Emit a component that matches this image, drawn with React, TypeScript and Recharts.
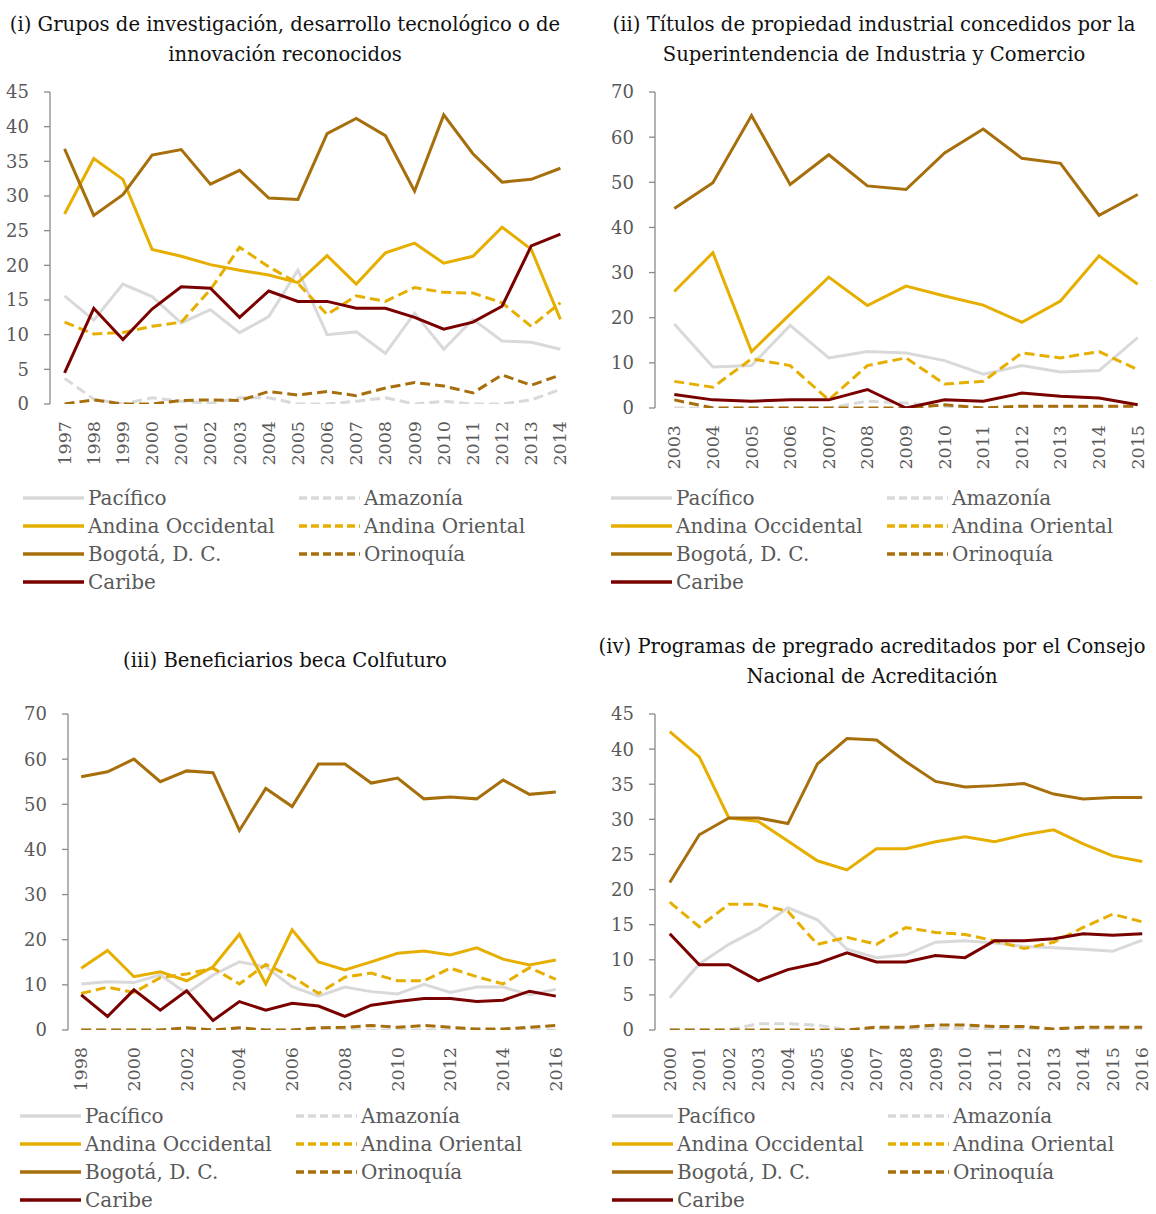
import React from 'react';
import { LineChart, Line, XAxis, YAxis } from 'recharts';

const FONT = '"DejaVu Serif", serif';
const TEXT_GRAY = '#595959';
const AXIS_GRAY = '#8A8A8A';

// ---------- Series definitions (names) ----------
const SERIES_KEYS = ['pacifico', 'amazonia', 'andOcc', 'andOr', 'bogota', 'orinoquia', 'caribe'];
const SERIES_NAMES = ['Pacífico', 'Amazonía', 'Andina Occidental', 'Andina Oriental', 'Bogotá, D. C.', 'Orinoquía', 'Caribe'];

// ---------- Panel (i) ----------
const years1 = ['1997','1998','1999','2000','2001','2002','2003','2004','2005','2006','2007','2008','2009','2010','2011','2012','2013','2014'];
const p1Pacifico = [15.6,12.1,17.3,15.5,11.7,13.6,10.3,12.6,19.3,10.0,10.4,7.3,13.1,7.9,12.2,9.1,8.9,7.9];
const p1Amazonia = [3.7,0.7,0,0.9,0.4,0.1,0.9,0.9,0,0,0.4,0.9,0,0.4,0,0,0.6,2.1];
const p1AndOcc = [27.4,35.4,32.4,22.3,21.3,20.1,19.3,18.6,17.5,21.4,17.3,21.8,23.2,20.3,21.3,25.5,22.3,12.2];
const p1AndOr = [11.8,10.1,10.3,11.2,11.8,16.5,22.6,19.8,17.4,12.9,15.6,14.8,16.8,16.1,16.0,14.6,11.2,14.6];
const p1Bogota = [36.8,27.2,30.2,35.9,36.7,31.7,33.7,29.7,29.5,39.0,41.2,38.7,30.7,41.7,36.1,32.0,32.4,34.0];
const p1Orinoquia = [0,0.6,0,0,0.5,0.6,0.5,1.8,1.3,1.8,1.2,2.3,3.1,2.6,1.6,4.2,2.7,4.2];
const p1Caribe = [4.5,13.8,9.3,13.7,16.9,16.7,12.5,16.3,14.8,14.8,13.8,13.8,12.5,10.8,11.8,14.1,22.8,24.5];

// ---------- Panel (ii) ----------
const years2 = ['2003','2004','2005','2006','2007','2008','2009','2010','2011','2012','2013','2014','2015'];
const p2Pacifico = [18.6,9.1,9.4,18.3,11.1,12.5,12.2,10.5,7.5,9.4,8.0,8.3,15.6];
const p2Amazonia = [0,0,0,0,0,1.5,1.1,0.4,0,0,0,0,0];
const p2AndOcc = [25.8,34.4,12.5,20.8,29.0,22.7,27.0,24.8,22.8,19.0,23.7,33.7,27.4];
const p2AndOr = [5.9,4.6,10.9,9.4,1.8,9.4,11.1,5.3,5.9,12.2,11.1,12.5,8.5];
const p2Bogota = [44.2,49.9,64.8,49.5,56.1,49.2,48.4,56.5,61.8,55.3,54.2,42.7,47.3];
const p2Orinoquia = [1.8,0,0,0,0,0,0,0.7,0,0.4,0.4,0.4,0.4];
const p2Caribe = [3.0,1.8,1.5,1.8,1.8,4.1,0,1.8,1.5,3.3,2.6,2.2,0.7];

// ---------- Panel (iii) ----------
const years3 = ['1998','1999','2000','2001','2002','2003','2004','2005','2006','2007','2008','2009','2010','2011','2012','2013','2014','2015','2016'];
const p3Pacifico = [10.2,10.7,10.5,12.2,8.1,12.2,15.1,14.0,9.6,7.5,9.5,8.5,8.0,10.1,8.3,9.5,9.5,7.8,9.0];
const p3Amazonia = [0,0,0,0,0,0,0,0,0,0,0,0,0,0,0,0,0,0,0];
const p3AndOcc = [13.7,17.6,11.8,12.9,10.9,14.0,21.2,10.2,22.2,15.1,13.3,15.1,17.0,17.5,16.6,18.2,15.7,14.4,15.5];
const p3AndOr = [8.1,9.5,8.3,11.6,12.4,13.7,10.2,14.5,11.8,8.1,11.7,12.6,10.9,10.9,13.7,11.8,10.2,13.8,11.2];
const p3Bogota = [56.1,57.2,60.0,55.0,57.4,57.0,44.2,53.5,49.5,58.9,58.9,54.7,55.8,51.2,51.6,51.2,55.4,52.2,52.7];
const p3Orinoquia = [0,0,0,0,0.5,0,0.5,0,0,0.5,0.6,1.0,0.6,1.0,0.6,0.2,0.2,0.6,1.0];
const p3Caribe = [7.8,3.0,8.9,4.4,8.7,2.1,6.3,4.4,5.9,5.3,3.0,5.5,6.3,7.0,7.0,6.3,6.6,8.6,7.5];

// ---------- Panel (iv) ----------
const years4 = ['2000','2001','2002','2003','2004','2005','2006','2007','2008','2009','2010','2011','2012','2013','2014','2015','2016'];
const p4Pacifico = [4.6,9.4,12.2,14.4,17.4,15.7,11.5,10.3,10.7,12.5,12.7,12.4,11.9,11.7,11.5,11.2,12.8];
const p4Amazonia = [0,0,0,0.9,0.9,0.7,0,0.2,0.2,0.2,0.2,0.2,0.2,0,0,0,0];
const p4AndOcc = [42.5,38.9,30.2,29.7,26.9,24.1,22.8,25.8,25.8,26.8,27.5,26.8,27.8,28.5,26.5,24.8,24.0];
const p4AndOr = [18.2,14.7,17.9,17.9,16.9,12.2,13.2,12.2,14.6,13.9,13.6,12.7,11.6,12.5,14.6,16.5,15.4];
const p4Bogota = [21.0,27.8,30.2,30.2,29.4,37.9,41.5,41.3,38.2,35.4,34.6,34.8,35.1,33.6,32.9,33.1,33.1];
const p4Orinoquia = [0,0,0,0,0,0,0,0.4,0.4,0.7,0.7,0.5,0.5,0.15,0.4,0.4,0.4];
const p4Caribe = [13.7,9.3,9.3,7.0,8.6,9.5,11.0,9.7,9.7,10.6,10.3,12.7,12.7,13.0,13.7,13.5,13.7];

// ---------- Titles ----------
const title1 = ['(i) Grupos de investigación, desarrollo tecnológico o de', 'innovación reconocidos'];
const title2 = ['(ii) Títulos de propiedad industrial concedidos por la', 'Superintendencia de Industria y Comercio'];
const title3 = ['(iii) Beneficiarios beca Colfuturo'];
const title4 = ['(iv) Programas de pregrado acreditados por el Consejo', 'Nacional de Acreditación'];

// ---------- Styles (separate from data) ----------
const SERIES_STYLE: Record<string, { color: string; dashed: boolean }> = {
  pacifico: { color: '#D9D9D9', dashed: false },
  amazonia: { color: '#D9D9D9', dashed: true },
  andOcc: { color: '#E6AF00', dashed: false },
  andOr: { color: '#E6AF00', dashed: true },
  bogota: { color: '#A66F0C', dashed: false },
  orinoquia: { color: '#A66F0C', dashed: true },
  caribe: { color: '#7A0000', dashed: false },
};

function buildRows(years: string[], cols: number[][]) {
  return years.map((y, i) => {
    const row: any = { i, year: y };
    SERIES_KEYS.forEach((k, j) => { row[k] = cols[j][i]; });
    return row;
  });
}

const data1 = buildRows(years1, [p1Pacifico, p1Amazonia, p1AndOcc, p1AndOr, p1Bogota, p1Orinoquia, p1Caribe]);
const data2 = buildRows(years2, [p2Pacifico, p2Amazonia, p2AndOcc, p2AndOr, p2Bogota, p2Orinoquia, p2Caribe]);
const data3 = buildRows(years3, [p3Pacifico, p3Amazonia, p3AndOcc, p3AndOr, p3Bogota, p3Orinoquia, p3Caribe]);
const data4 = buildRows(years4, [p4Pacifico, p4Amazonia, p4AndOcc, p4AndOr, p4Bogota, p4Orinoquia, p4Caribe]);

type PanelProps = {
  data: any[];
  years: string[];
  yMax: number;
  yStep: number;
  left: number;
  plotTop: number;
  yAxisWidth: number;
  plotWidth: number;
  plotHeight: number;
  labelEvery: number;
};

function Panel(p: PanelProps) {
  const n = p.years.length;
  const marginTop = 12;
  const xAxisHeight = 70;
  const width = p.yAxisWidth + p.plotWidth;
  const height = marginTop + p.plotHeight + xAxisHeight;
  const yTicks: number[] = [];
  for (let v = 0; v <= p.yMax; v += p.yStep) yTicks.push(v);
  const boundaryTicks = Array.from({ length: n + 1 }, (_, k) => k);
  const labelTicks = p.years.map((_, i) => i).filter((i) => i % p.labelEvery === 0);
  const renderTick = (props: any) => {
    const { x, y, payload } = props;
    return (
      <text
        x={x}
        y={y}
        transform={`rotate(-90, ${x}, ${y})`}
        textAnchor="end"
        dominantBaseline="central"
        fill={TEXT_GRAY}
        fontSize={17.5}
        fontFamily={FONT}
      >
        {p.years[payload.value]}
      </text>
    );
  };
  return (
    <div style={{ position: 'absolute', left: p.left, top: p.plotTop - marginTop }}>
      <LineChart width={width} height={height} data={p.data} margin={{ top: marginTop, right: 0, bottom: 0, left: 0 }}>
        <XAxis
          xAxisId="frame"
          type="number"
          dataKey="i"
          domain={[0, n]}
          ticks={boundaryTicks}
          interval={0}
          height={0}
          tick={false}
          tickSize={8}
          axisLine={{ stroke: AXIS_GRAY, strokeWidth: 1.3 }}
          tickLine={{ stroke: AXIS_GRAY, strokeWidth: 1.3 }}
          allowDataOverflow
        />
        <XAxis
          xAxisId="labels"
          type="number"
          dataKey="i"
          domain={[-0.5, n - 0.5]}
          ticks={labelTicks}
          interval={0}
          height={xAxisHeight}
          axisLine={false}
          tickLine={false}
          tickSize={6}
          tickMargin={11}
          tick={renderTick}
          allowDataOverflow
        />
        <YAxis
          type="number"
          domain={[0, p.yMax]}
          ticks={yTicks}
          interval={0}
          width={p.yAxisWidth}
          tickSize={6}
          tickMargin={15}
          axisLine={{ stroke: AXIS_GRAY, strokeWidth: 1.3 }}
          tickLine={{ stroke: AXIS_GRAY, strokeWidth: 1.3 }}
          tick={{ fill: TEXT_GRAY, fontSize: 18, fontFamily: FONT }}
          allowDataOverflow
        />
        {SERIES_KEYS.map((k, j) => (
          <Line
            key={k}
            xAxisId="labels"
            type="linear"
            dataKey={k}
            name={SERIES_NAMES[j]}
            stroke={SERIES_STYLE[k].color}
            strokeWidth={3}
            strokeDasharray={SERIES_STYLE[k].dashed ? '10 5' : undefined}
            dot={false}
            activeDot={false}
            isAnimationActive={false}
          />
        ))}
      </LineChart>
    </div>
  );
}

function LegendBlock({ left, centerTop }: { left: number; centerTop: number }) {
  const colGap = 276;
  const rowStep = 28;
  const boxH = 20;
  return (
    <div style={{ position: 'absolute', left, top: centerTop - boxH / 2 }}>
      {SERIES_KEYS.map((k, j) => {
        const col = j % 2;
        const row = Math.floor(j / 2);
        const st = SERIES_STYLE[k];
        return (
          <div
            key={k}
            style={{
              position: 'absolute',
              left: col * colGap,
              top: row * rowStep,
              height: boxH,
              display: 'flex',
              alignItems: 'center',
              whiteSpace: 'nowrap',
            }}
          >
            <svg width={61} height={8} style={{ display: 'block' }}>
              <line
                x1={0}
                y1={4}
                x2={61}
                y2={4}
                stroke={st.color}
                strokeWidth={3.5}
                strokeDasharray={st.dashed ? '8 4' : undefined}
              />
            </svg>
            <span style={{ marginLeft: 4, fontSize: 20, color: TEXT_GRAY, fontFamily: FONT, lineHeight: `${boxH}px` }}>
              {SERIES_NAMES[j]}
            </span>
          </div>
        );
      })}
    </div>
  );
}

function Title({ lines, centerX, top }: { lines: string[]; centerX: number; top: number }) {
  return (
    <div
      style={{
        position: 'absolute',
        left: centerX - 300,
        width: 600,
        top,
        textAlign: 'center',
        fontSize: 19.6,
        lineHeight: '30px',
        color: '#111111',
        fontFamily: FONT,
        whiteSpace: 'nowrap',
      }}
    >
      {lines.map((l, i) => (
        <div key={i}>{l}</div>
      ))}
    </div>
  );
}

export default function App() {
  return (
    <div
      style={{
        position: 'absolute',
        left: 0,
        top: 0,
        width: 1156,
        height: 1214,
        overflow: 'hidden',
        background: '#FFFFFF',
        fontFamily: FONT,
      }}
    >
      <Title lines={title1} centerX={285} top={10} />
      <Title lines={title2} centerX={874} top={10} />
      <Title lines={title3} centerX={285} top={646} />
      <Title lines={title4} centerX={872} top={632} />

      <Panel data={data1} years={years1} yMax={45} yStep={5} left={0} plotTop={92} yAxisWidth={50} plotWidth={525} plotHeight={312} labelEvery={1} />
      <Panel data={data2} years={years2} yMax={70} yStep={10} left={600} plotTop={92} yAxisWidth={55} plotWidth={502} plotHeight={316} labelEvery={1} />
      <Panel data={data3} years={years3} yMax={70} yStep={10} left={0} plotTop={714} yAxisWidth={68} plotWidth={501} plotHeight={316} labelEvery={2} />
      <Panel data={data4} years={years4} yMax={45} yStep={5} left={600} plotTop={714} yAxisWidth={55} plotWidth={502} plotHeight={316} labelEvery={1} />

      <LegendBlock left={23} centerTop={498} />
      <LegendBlock left={611} centerTop={498} />
      <LegendBlock left={20} centerTop={1116} />
      <LegendBlock left={612} centerTop={1116} />
    </div>
  );
}
